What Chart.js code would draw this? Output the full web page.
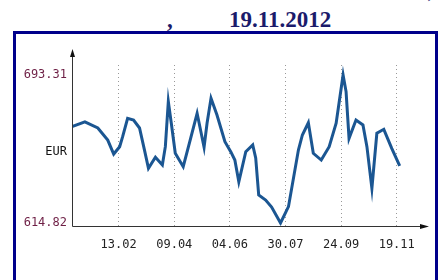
<!DOCTYPE html>
<html>
<head>
<meta charset="utf-8">
<script src="https://cdn.jsdelivr.net/npm/chart.js@4"></script>
<style>
  html, body { margin: 0; padding: 0; background: #fff; }
  body { width: 440px; height: 280px; position: relative; overflow: hidden; }
  .ttl { position: absolute; font-family: "Liberation Serif", serif; font-weight: bold; color: #1b1b6b; line-height: 1; white-space: nowrap; }
  #frame { position: absolute; left: 13px; top: 31px; width: 419px; height: 300px; border: 3px solid #00008b; border-bottom: none; }
  #wrap { position: absolute; left: 0; top: 0; width: 440px; height: 280px; }
</style>
</head>
<body>
<div class="ttl" style="left:428px; top:-14px; font-size:16px;">,</div>
<div class="ttl" style="left:167px; top:8px; font-size:23px;">,</div>
<div class="ttl" style="left:229px; top:8px; font-size:23px;">19.11.2012</div>
<div id="frame"></div>
<div id="wrap"><canvas id="myChart" width="440" height="280"></canvas></div>
<script>
// day offsets from the start of the series and EUR rate
const days = [0, 13, 26, 36, 42, 48, 51, 56, 62, 68, 73, 77, 84, 91, 94, 97, 100, 104, 112, 119,
  126, 133, 136, 140, 146, 154, 160, 164, 168, 175, 182, 185, 188, 195, 201, 210, 218, 228, 232, 238,
  243, 251, 259, 266, 273, 276, 279, 286, 293, 297, 302, 307, 314, 322, 330];
const rates = [665.9, 668.5, 665.2, 658.8, 651.4, 655.3, 660.6, 670.3, 669.4, 665.2, 653.5, 643.8, 649.7, 645.6, 655.3, 679.2, 667.7, 651.8, 644.7, 658.8,
  673.0, 655.0, 667.7, 681.0, 672.1, 657.9, 652.5, 648.2, 636.7, 652.6, 656.2, 649.3, 629.7, 627.0, 623.3, 614.82, 623.5, 653.5, 661.5, 668.0,
  651.8, 648.2, 655.3, 667.7, 693.31, 684.5, 659.7, 669.4, 666.8, 655.3, 633.2, 662.4, 664.5, 654.4, 645.1];

const tickDays = [47, 103, 159, 215, 271, 327];
const tickLabels = ['13.02', '09.04', '04.06', '30.07', '24.09', '19.11'];
const yTicks = [614.82, 652.5, 693.31];
const yLabels = ['614.82', 'EUR', '693.31'];

const points = days.map((d, i) => ({ x: d, y: rates[i] }));

// axis lines with arrow heads, drawn over the chart
const arrows = {
  id: 'arrows',
  afterDraw(chart) {
    const c = chart.ctx;
    const a = chart.chartArea;
    const x0 = a.left + 0.5;
    const y0 = Math.round(a.bottom) + 0.5;
    c.save();
    c.strokeStyle = '#333';
    c.fillStyle = '#111';
    c.lineWidth = 1;
    c.beginPath();
    c.moveTo(x0, y0);
    c.lineTo(x0, 52);
    c.moveTo(x0, y0);
    c.lineTo(a.right, y0);
    c.stroke();
    c.beginPath();
    c.moveTo(x0, 49);
    c.lineTo(x0 - 2.5, 57);
    c.lineTo(x0 + 2.5, 57);
    c.closePath();
    c.fill();
    c.beginPath();
    c.moveTo(a.right + 2, y0);
    c.lineTo(a.right - 7, y0 - 2.5);
    c.lineTo(a.right - 7, y0 + 2.5);
    c.closePath();
    c.fill();
    c.restore();
  }
};

const ctx = document.getElementById('myChart').getContext('2d');
const chart = new Chart(ctx, {
  type: 'line',
  data: {
    datasets: [{
      data: points,
      borderColor: '#1b5692',
      borderWidth: 3,
      pointRadius: 0,
      tension: 0
    }]
  },
  options: {
    responsive: false,
    animation: false,
    events: [],
    layout: { padding: { top: 65, right: 13, left: 0, bottom: 0 } },
    plugins: { legend: { display: false }, tooltip: { enabled: false } },
    scales: {
      x: {
        type: 'linear',
        min: 0,
        max: 357.5,
        afterBuildTicks: s => { s.ticks = tickDays.map(v => ({ value: v })); },
        afterFit: s => { s.height = 54.3; },
        ticks: {
          callback: (v, i) => tickLabels[i],
          color: '#222',
          padding: 12,
          maxRotation: 0,
          autoSkip: false,
          font: { family: 'DejaVu Sans Mono', size: 12 }
        },
        grid: { color: '#999', drawTicks: false, lineWidth: 1 },
        border: { display: false, dash: [1, 3] }
      },
      y: {
        min: 613.39,
        max: 698.61,
        afterBuildTicks: s => { s.ticks = yTicks.map(v => ({ value: v })); },
        afterFit: s => { s.width = 72; },
        ticks: {
          callback: (v, i) => yLabels[i],
          color: c => (c.index === 1 ? '#111' : '#6e1f45'),
          padding: 5,
          font: { family: 'DejaVu Sans Mono', size: 12 }
        },
        grid: { display: false, drawTicks: false },
        border: { display: false }
      }
    }
  },
  plugins: [arrows]
});
</script>
</body>
</html>
